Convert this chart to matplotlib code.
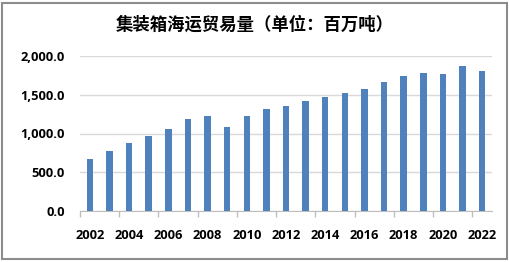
import matplotlib.pyplot as plt
import numpy as np
from matplotlib.patches import Rectangle

years = list(range(2002, 2023))
volumes = [671, 774, 881, 968, 1054, 1183, 1226, 1088, 1226, 1316, 1350,
           1415, 1470, 1518, 1578, 1664, 1737, 1776, 1763, 1866, 1802]
yticks = [0, 500, 1000, 1500, 2000]
title = '集装箱海运贸易量（单位：百万吨）'

plt.rcParams['font.family'] = ['Open Sans', 'Noto Sans CJK SC', 'DejaVu Sans']

fig = plt.figure(figsize=(5.1, 2.62), dpi=100)
ax = fig.add_axes([80 / 510, 51 / 262, 412 / 510, 155 / 262])

x = np.arange(len(years))
ax.bar(x, volumes, width=0.33, color='#4f81bd', zorder=3)

ax.set_xlim(-0.5, len(years) - 0.5)
ax.set_ylim(0, 2000)
ax.set_yticks(yticks)
ax.set_yticklabels(['{:,.1f}'.format(v) for v in yticks],
                   fontsize=9.3, fontweight='bold')
ax.tick_params(axis='y', length=0, pad=11)
ax.grid(axis='y', color='#d9d9d9', linewidth=1, zorder=0)

# year labels at every second bar, tick marks on the category boundaries
ax.set_xticks(x[::2])
ax.set_xticklabels([str(y) for y in years[::2]], fontsize=9.3, fontweight='bold')
ax.tick_params(axis='x', length=0, pad=13)
ax.set_xticks(np.arange(-0.5, len(years) - 1, 2), minor=True)
ax.tick_params(axis='x', which='minor', length=4, color='#bfbfbf', width=1)

for s in ['top', 'right', 'left']:
    ax.spines[s].set_visible(False)
ax.spines['bottom'].set_color('#bfbfbf')

fig.text(0.5, 1 - 25 / 262, title, ha='center', va='center', fontsize=12.5,
         fontweight='bold', family=['Noto Sans CJK SC', 'DejaVu Sans'])

fig.patches.append(Rectangle((2 / 510, 3 / 262), 505 / 510, 256 / 262,
                             transform=fig.transFigure, fill=False,
                             edgecolor='#8c8c8c', linewidth=1.5))

fig.savefig('out.png', dpi=100)
plt.close(fig)
